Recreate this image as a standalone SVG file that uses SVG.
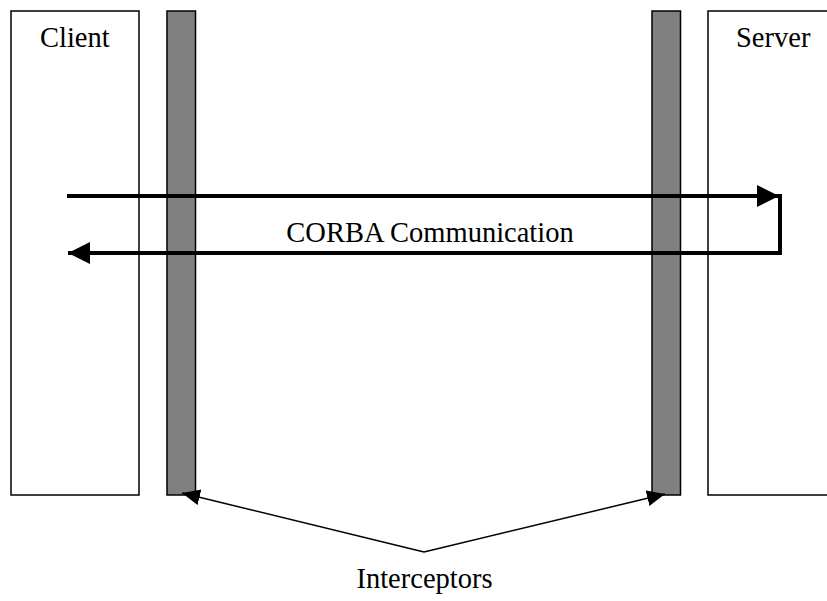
<svg xmlns="http://www.w3.org/2000/svg" width="827" height="601" viewBox="0 0 827 601">
  <style>
    .box { fill: #ffffff; stroke: #000000; stroke-width: 1.5; }
    .bar { fill: #808080; stroke: #000000; stroke-width: 1.5; }
    .label { font-family: "Liberation Serif", "Times New Roman", serif; font-size: 28.5px; fill: #000000; }
    .flow { fill: none; stroke: #000000; stroke-width: 4; }
    .pointer { fill: none; stroke: #000000; stroke-width: 1.5; }
  </style>
  <defs>
    <marker id="bigHead" markerUnits="userSpaceOnUse" markerWidth="24" markerHeight="24" refX="22" refY="11" orient="auto">
      <polygon points="0,0 22,11 0,22" fill="#000000"/>
    </marker>
    <marker id="smallHead" markerUnits="userSpaceOnUse" markerWidth="20" markerHeight="20" refX="18" refY="8" orient="auto">
      <polygon points="0,0 18,8 0,16" fill="#000000"/>
    </marker>
  </defs>
  <rect width="827" height="601" fill="#ffffff"/>

  <g id="client">
    <rect class="box" x="11" y="11" width="128" height="484"/>
    <text class="label" x="40" y="47">Client</text>
  </g>

  <g id="server">
    <rect class="box" x="708" y="11" width="130" height="484"/>
    <text class="label" x="736" y="47">Server</text>
  </g>

  <g id="interceptor-client">
    <rect class="bar" x="167" y="11" width="28.5" height="484"/>
  </g>

  <g id="interceptor-server">
    <rect class="bar" x="652" y="11" width="28.5" height="484"/>
  </g>

  <g id="interceptors-label">
    <text class="label" x="424.5" y="588" text-anchor="middle">Interceptors</text>
  </g>

  <g id="connectors">
    <!-- request / reply loop -->
    <line class="flow" x1="67" y1="196" x2="779" y2="196" marker-end="url(#bigHead)"/>
    <polyline class="flow" points="778,196 780,196 780,253 68,253" marker-end="url(#bigHead)"/>
    <text class="label" x="430" y="242" text-anchor="middle">CORBA Communication</text>
    <!-- pointers to the interceptor bars -->
    <line class="pointer" x1="424" y1="552" x2="182" y2="493" marker-end="url(#smallHead)"/>
    <line class="pointer" x1="424" y1="552" x2="665" y2="494" marker-end="url(#smallHead)"/>
  </g>
</svg>
